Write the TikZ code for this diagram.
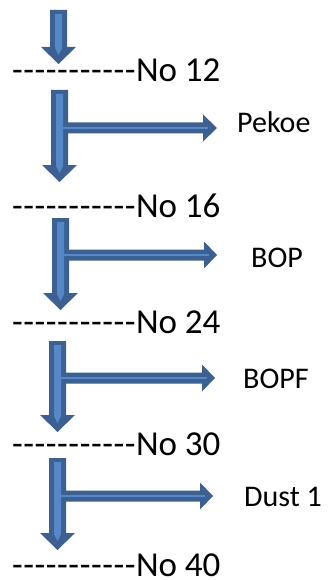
\documentclass[tikz,border=0pt]{standalone}
\usepackage{fontspec}
\setmainfont{Carlito}
\definecolor{arrdark}{RGB}{59,96,145}
\definecolor{arrlight}{RGB}{86,136,200}
\newcommand\hy{\mbox{-}\kern0.55pt}
\newcommand\dashrow{\hy\hy\hy\hy\hy\hy\hy\hy\hy\hy\hy}
% vertical block arrow: #1 left x, #2 top y, #3 head base y, #4 tip y
\newcommand\vblock[4]{%
  \fill[arrdark] (#1,#2) -- ({#1+17},#2) -- ({#1+17},#3) -- ({#1+26},#3) -- ({#1+8.5},#4) -- ({#1-9},#3) -- (#1,#3) -- cycle;
  \fill[arrlight] ({#1+5},{#2+4}) -- ({#1+12},{#2+4}) -- ({#1+12},{#3+1}) -- ({#1+8.5},{#3+8}) -- ({#1+5},{#3+1}) -- cycle;}
% horizontal block arrow: #1 start x, #2 centre y, #3 head base x, #4 tip x
\newcommand\hblock[4]{%
  \fill[arrdark] (#1,{#2-5.5}) -- (#3,{#2-5.5}) -- (#3,{#2-13.5}) -- (#4,#2) -- (#3,{#2+13.5}) -- (#3,{#2+5.5}) -- (#1,{#2+5.5}) -- cycle;
  \fill[arrlight] ({#1-5},{#2-1.2}) rectangle ({#3+5},{#2+1.2});}
\tikzset{
  level/.style={anchor=base west, inner sep=0pt, text depth=0pt, font=\fontsize{35}{42}\selectfont},
  grade/.style={anchor=base west, inner sep=0pt, font=\fontsize{30}{36}\selectfont}
}
\begin{document}
\begin{tikzpicture}[x=1pt,y=-1pt]
\useasboundingbox[fill=white] (0,0) rectangle (329,580);
% arrows
\vblock{50}{10}{47}{64}
\vblock{51}{90}{165}{182}
\hblock{68}{128}{203}{217}
\vblock{52}{218}{293}{310}
\hblock{69}{255}{204}{217}
\vblock{49}{341}{415}{432}
\hblock{66}{378}{202}{215}
\vblock{49}{458}{533}{550}
\hblock{66}{496}{200}{213}
% levels
\node[level] (n12) at (12,82) {\dashrow No 12};
\node[level] (n16) at (12,217) {\dashrow No 16};
\node[level] (n24) at (12,333) {\dashrow No 24};
\node[level] (n30) at (12,455) {\dashrow No 30};
\node[level] (n40) at (12,576) {\dashrow No 40};
% grades
\node[grade] (pekoe) at (237,133) {Pekoe};
\node[grade] (bop) at (251,267) {BOP};
\node[grade] (bopf) at (243,388) {BOPF};
\node[grade] (dust) at (244,506) {Dust 1};
\end{tikzpicture}
\end{document}
